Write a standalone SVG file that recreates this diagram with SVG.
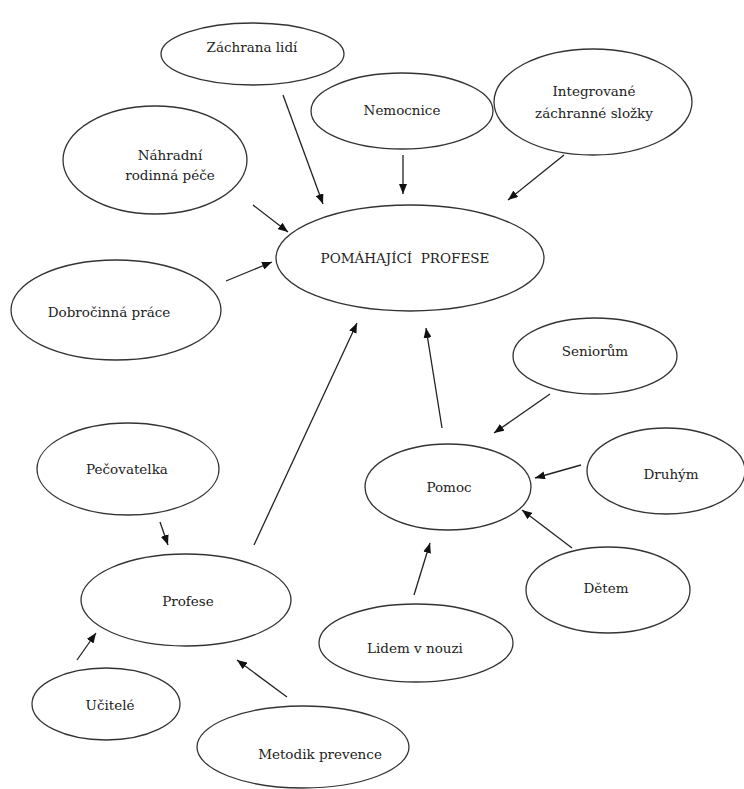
<svg xmlns="http://www.w3.org/2000/svg" width="744" height="789" viewBox="0 0 744 789">
<style>
.n ellipse{fill:#fff;stroke:#333;stroke-width:1.3}
.n text{font-family:"DejaVu Serif",serif;font-size:13.5px;fill:#222;text-anchor:middle}
.c line{stroke:#222;stroke-width:1.3;marker-end:url(#ah)}
</style>
<defs>
<marker id="ah" viewBox="0 0 10 8" refX="10" refY="4" markerWidth="10" markerHeight="8" markerUnits="userSpaceOnUse" orient="auto">
<path d="M0,0 L10,4 L0,8 z" fill="#111"/>
</marker>
</defs>
<rect width="744" height="789" fill="#fff"/>
<g class="n" id="zachrana"><ellipse cx="252.5" cy="54" rx="91.5" ry="31"/><text x="252" y="52">Záchrana lidí</text></g>
<g class="n" id="nemocnice"><ellipse cx="402" cy="111" rx="91" ry="38"/><text x="402" y="115">Nemocnice</text></g>
<g class="n" id="izs"><ellipse cx="593" cy="102" rx="99" ry="53"/><text x="594" y="96">Integrované</text><text x="594" y="118">záchranné složky</text></g>
<g class="n" id="nahradni"><ellipse cx="155" cy="160" rx="92" ry="54"/><text x="170" y="160">Náhradní</text><text x="170" y="180">rodinná péče</text></g>
<g class="n" id="dobrocinna"><ellipse cx="116" cy="310" rx="105" ry="50"/><text x="109" y="317">Dobročinná práce</text></g>
<g class="n" id="pomahajici"><ellipse cx="410" cy="258" rx="134" ry="53"/><text x="405" y="263" xml:space="preserve">POMÁHAJÍCÍ  PROFESE</text></g>
<g class="n" id="seniorum"><ellipse cx="595" cy="356" rx="82" ry="38"/><text x="595" y="356">Seniorům</text></g>
<g class="n" id="druhym"><ellipse cx="666" cy="471" rx="79" ry="43"/><text x="671" y="479">Druhým</text></g>
<g class="n" id="pomoc"><ellipse cx="448" cy="487" rx="83" ry="43"/><text x="449" y="492">Pomoc</text></g>
<g class="n" id="detem"><ellipse cx="608" cy="590" rx="82" ry="43"/><text x="606" y="593">Dětem</text></g>
<g class="n" id="lidem"><ellipse cx="416" cy="643" rx="97" ry="39"/><text x="415" y="653">Lidem v nouzi</text></g>
<g class="n" id="pecovatelka"><ellipse cx="128" cy="469" rx="91" ry="46"/><text x="127" y="474">Pečovatelka</text></g>
<g class="n" id="profese"><ellipse cx="186" cy="600" rx="105" ry="46"/><text x="188" y="606">Profese</text></g>
<g class="n" id="ucitele"><ellipse cx="106" cy="704" rx="74" ry="36"/><text x="110" y="710">Učitelé</text></g>
<g class="n" id="metodik"><ellipse cx="303" cy="747" rx="106" ry="41"/><text x="320" y="759">Metodik prevence</text></g>
<g class="c" id="connectors">
<line x1="283" y1="95" x2="323" y2="204"/>
<line x1="403" y1="155" x2="403" y2="194"/>
<line x1="564" y1="155" x2="508" y2="200"/>
<line x1="253" y1="205" x2="288" y2="232"/>
<line x1="226" y1="281" x2="272" y2="262"/>
<line x1="254" y1="545" x2="357" y2="323"/>
<line x1="442" y1="428" x2="426" y2="328"/>
<line x1="550" y1="394" x2="494" y2="433"/>
<line x1="581" y1="465" x2="535" y2="478"/>
<line x1="572" y1="548" x2="522" y2="510"/>
<line x1="414" y1="595" x2="430" y2="543"/>
<line x1="160" y1="522" x2="168" y2="545"/>
<line x1="77" y1="660" x2="96" y2="633"/>
<line x1="287" y1="697" x2="237" y2="660"/>
</g>
</svg>
